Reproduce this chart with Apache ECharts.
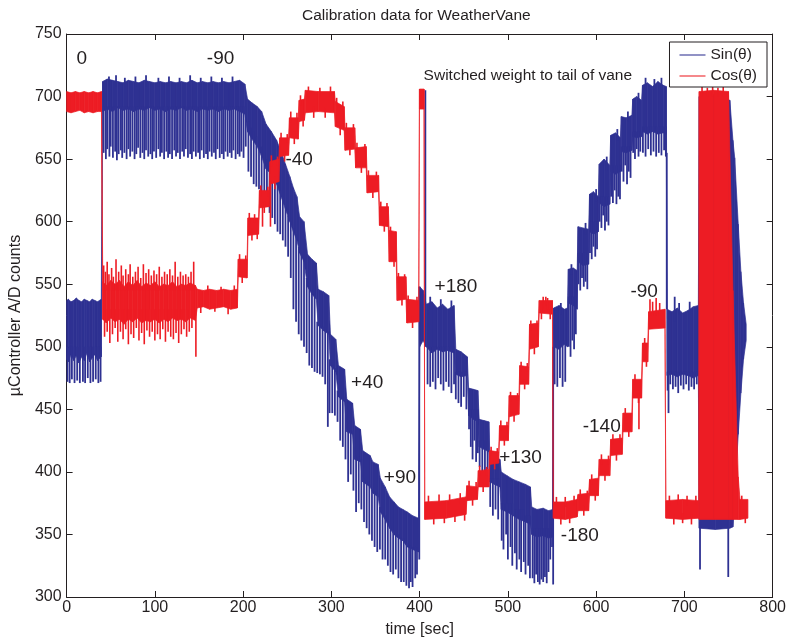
<!DOCTYPE html>
<html>
<head>
<meta charset="utf-8">
<title>Calibration data for WeatherVane</title>
<script src="https://cdn.jsdelivr.net/npm/echarts@6/dist/echarts.min.js"></script>
<style>
  html, body { margin: 0; padding: 0; background: #fff; }
  #chart { width: 789px; height: 643px; }
</style>
</head>
<body>
<div id="chart"></div>
<script>
// Sampled A/D readings. Each band entry is [time, lowest, highest] of the
// dense trace around that time; each spike entry is [time, from, to] for an
// isolated excursion of the noisy signal.
const sinBand = [
  [0,490,537],[2,488,538],[5,494,536],[8,489,537],[11,493,539],[14,487,537],[17,492,536],[20,489,538],
  [23,495,537],[26,488,536],[29,491,538],[32,494,537],[35,489,536],[39.3,492,538],
  [40.8,688,712],[46,690,714],[52,688,713],[58,691,712],[64,689,711],[70,690,713],[76,688,712],[82,690,711],
  [88,689,713],[94,691,712],[100,689,711],[106,690,712],[112,688,711],[118,690,712],[124,689,711],[130,691,712],
  [136,689,711],[142,690,713],[148,688,711],[154,690,712],[160,689,711],[166,690,712],[172,688,711],[178,690,712],
  [184,689,711],[190,690,712],[196,688,713],[202,686,710],
  [205,672,698],[210,666,695],[216,660,692],[221,652,688],[226,642,678],[232,638,672],[238,630,665],[243,620,656],
  [248,610,646],[253,600,636],[257,592,627],[261,585,620],[264,575,604],[269,568,600],[273,548,574],[278,542,570],
  [283,538,567],[285,517,546],[291,513,544],[297,510,541],[299,485,510],[305,480,506],[308,460,485],[315,456,482],
  [317.5,432,458],[324,430,455],[326.5,410,437],[333,408,434],[335.5,392,417],[344,388,413],[347,383,408],[353,380,406],
  [355.5,368,395],[361,362,388],[366,355,380],[371,350,376],[376,347,372],[381,345,370],[386,340,368],[392,338,365],
  [398.8,336,363],
  [400.2,500,548],[404,505,545],[407.5,500,534],[414,495,536],[420,498,531],[426,496,534],[432,497,530],[439,495,533],
  [441,478,498],[447,476,496],[454,477,492],
  [455.5,445,467],[461,442,466],[466,440,465],
  [467.5,420,442],[473,418,441],[478.5,416,440],
  [479.5,392,414],[485,390,412],[491,388,410],
  [492.5,370,400],[499,368,397],[506,365,394],[513,362,392],[520,360,390],[525.5,358,388],
  [527,350,372],[533,348,370],[540,349,371],[546,347,369],[550.8,348,370],
  [551.8,500,531],[558,498,533],[564,502,530],[567.5,500,531],
  [568.5,535,562],[574,533,563],[578.5,530,561],
  [579.5,568,596],[585,565,595],[591.5,566,594],
  [592.5,592,622],[597,590,624],[602.5,592,620],
  [603.5,615,646],[609,612,650],[615.5,614,645],
  [616.5,640,669],[622,638,671],[627.5,640,667],
  [628.5,656,684],[634,655,683],[640.5,657,685],
  [641.5,668,698],[646,667,700],[651.5,668,697],
  [652.5,672,709],[658,670,711],[664,672,708],[670,670,712],[676,671,709],[679.5,670,708],
  [680.5,477,530],[686,478,528],[692,476,531],[698,478,527],[704,477,529],[710,475,532],[715.8,477,533],
  [716.8,355,700],[735,354,702],[751.5,355,697],[755,356,665],[757,380,651],[761,430,598],[764,463,560],
  [767,490,535],[770,505,518]
];

const sinSpikes = [
  [1,472,500],[3.5,471,500],[6,474,500],[9,471,500],[12,473,500],[15,471,500],[18.5,472,500],[21,471,500],
  [24,475,500],[27,471,500],[30,472,500],[33,474,500],[36,471,500],[38.5,472,500],
  [42,655,692],[44.5,650,692],[46,658,692],[48.5,652,692],[50,660,692],[52.5,651,692],[55,656,692],[57,649,692],
  [59,654,692],[61.5,657,692],[63,651,692],[65.5,655,692],[68,650,692],[70,658,692],[72,652,692],[74.5,656,692],
  [77,650,692],[79,654,692],[81,659,692],[83.5,651,692],[86,655,692],[88,650,692],[90,657,692],[92.5,652,692],
  [95,654,692],[97,650,692],[99,656,692],[101.5,651,692],[104,658,692],[106,652,692],[108,655,692],[110.5,650,692],
  [113,656,692],[115,651,692],[117,654,692],[119.5,650,692],[122,657,692],[124,652,692],[126,655,692],[128.5,650,692],
  [131,656,692],[133,652,692],[135,658,692],[137.5,651,692],[140,654,692],[142,650,692],[144,656,692],[146.5,652,692],
  [149,655,692],[151,650,692],[153,657,692],[155.5,651,692],[158,654,692],[160,650,692],[162,656,692],[164.5,652,692],
  [167,655,692],[169,650,692],[171,658,692],[173.5,651,692],[176,654,692],[178,650,692],[180,656,692],[182.5,652,692],
  [185,655,692],[187,651,692],[189,657,692],[191.5,650,692],[194,654,692],[196,652,692],[198,656,692],[200.5,651,692],
  [203,660,692],
  [48,708,716],[56,708,717],[66,708,715],[78,708,716],[90,708,717],[104,708,715],[116,708,716],[128,708,715],
  [140,708,717],[152,708,715],[164,708,716],[176,708,715],[188,708,716],
  [206,640,680],[209,636,675],[212,630,672],[215,628,668],[218,626,665],[221,622,660],[224,615,655],[227,612,650],
  [230,607,645],[233,603,640],[236,598,636],[239,592,630],[242,590,625],[245,585,618],[248,580,612],[251,572,605],
  [254,555,600],[257,530,595],[260,520,590],[263,510,580],[266,505,575],[269,500,570],[272,495,555],[275,485,548],
  [278,483,545],[281,480,542],[284,479,520],[287,478,518],[290,476,516],[293,470,514],[296,436,512],[298,447,490],
  [301,447,485],[304,445,483],[307,440,465],[310,425,460],[313,420,458],[316,410,460],[319,392,435],[322,398,433],
  [325,385,433],[328,368,413],[331,375,412],[334,370,410],[337,360,395],[340,355,392],[343,350,390],[346,345,386],
  [349,340,384],[352,336,383],[355,338,372],[358,330,367],[361,330,365],[364,325,360],[367,320,357],[370,318,352],
  [373,322,350],[376,315,350],[379,312,348],[382,312,347],[385,309,343],[388,307,342],[390,312,341],[392,308,340],
  [395,315,340],[397,318,340],
  [399.6,330,548],[406.5,500,705],
  [409,470,500],[412,468,500],[415,472,500],[418,466,500],[421,475,500],[424,470,500],[427,465,500],[430,472,500],
  [433,468,500],[436,463,500],[439,470,500],
  [412,530,540],[424,530,538],[436,529,537],
  [441,458,480],[444,455,480],[447,452,480],[450,460,480],[453,450,480],
  [456,434,450],[458,420,450],[460,410,450],[462,425,450],[464,408,450],[466,415,450],
  [468,404,425],[471,400,425],[474,399,425],[477,402,425],
  [480,372,395],[483,365,395],[486,370,395],[489,362,395],
  [493,345,375],[495,338,375],[498,350,375],[500,330,375],[503,340,375],[505,325,375],[508,335,370],[510,322,370],
  [513,330,370],[515,320,370],[518,328,370],[520,318,365],[523,325,365],[525,315,365],
  [528,315,355],[530,311,355],[532,318,355],[534,312,355],[536,310,355],[538,314,355],[540,312,355],[542,316,355],
  [544,311,355],[546,320,355],[548,330,355],[550,340,355],
  [551.3,310,500],
  [553,470,505],[556,468,505],[559,475,505],[562,468,505],[565,472,505],
  [569,500,540],[571,492,540],[573,505,540],[575,498,540],[577,510,540],
  [580,550,575],[582,545,575],[584,555,575],[586,548,575],[588,552,575],[590,546,575],
  [593,575,600],[595,570,600],[597,580,600],[599,572,600],[601,578,600],
  [604,600,620],[606,595,620],[608,605,620],[610,593,620],[612,600,620],[614,597,620],
  [617,620,645],[619,615,645],[621,625,645],[623,614,645],[625,620,645],[627,618,645],
  [629,640,660],[631,632,660],[633,645,660],[635,630,660],[637,640,660],[639,635,660],
  [642,655,672],[644,650,672],[646,658,672],[648,652,672],[650,656,672],
  [653,655,676],[656,652,676],[659,658,676],[662,653,676],[665,656,676],[668,652,676],[671,655,676],[674,653,676],
  [677,657,676],[679,652,676],
  [560,526,535],[572,558,566],[588,590,599],[600,616,626],[612,641,652],[624,665,674],[636,680,688],[648,694,703],
  [656,706,715],[666,706,714],[674,706,715],
  [680,530,655],
  [681,465,480],[682,447,480],[684,470,480],[687,466,480],[689,520,540],[690,468,480],[693,463,480],[696,469,480],
  [699,466,480],[702,470,480],[705,465,480],[708,468,480],[711,466,480],[714,470,480],
  [694,526,535],[706,527,536],
  [717.7,322,360],[749.7,316,360]
];

const cosBand = [
  [0,688,704],[5,687,703],[10,688,704],[15,689,703],[20,687,704],[25,688,703],[30,687,704],[35,688,703],[39.5,688,704],
  [41,522,552],[45,519,549],[50,523,553],[55,520,550],[60,522,553],[65,518,548],[70,522,552],[75,520,549],
  [80,523,553],[85,519,548],[90,521,551],[95,520,549],[100,522,552],[105,519,548],[110,522,550],[115,520,549],
  [120,523,552],[125,521,548],[130,522,550],[135,520,549],[140,523,551],[146,521,549],
  [148,531,546],[155,532,545],[162,530,546],[170,531,545],[178,532,546],[186,530,545],[193.5,531,546],
  [194.5,556,570],[204.5,555,570],
  [205.5,589,603],[217.5,590,603],
  [218.5,611,625],[229.5,612,625],
  [230.5,630,648],[240.5,632,650],
  [241.5,652,667],[251.5,653,667],
  [252.5,667,683],[262.5,666,683],
  [263.5,680,697],[269.5,681,698],
  [270.5,687,705],[285,688,704],[303.5,687,704],
  [304.5,676,696],[314.5,673,692],
  [315.5,657,675],[326.5,658,675],
  [327.5,643,659],[339.5,643,660],
  [340.5,623,637],[353.5,624,637],
  [354.5,597,612],[364.5,596,612],
  [365.5,568,593],[373.5,568,592],
  [374.5,537,556],[384.5,538,556],
  [385.5,519,538],[399,520,537],
  [399.8,690,706],[405,690,706],
  [405.8,362,376],[430,363,377],[452.5,366,380],
  [453.5,377,389],[465.5,378,388],
  [466.5,388,401],[478.5,388,402],
  [479.5,406,417],[489.5,407,416],
  [490.5,425,437],[500.5,425,437],
  [501.5,444,461],[512.5,446,461],
  [513.5,470,485],[523.5,470,484],
  [524.5,498,518],[534.5,500,519],
  [535.5,527,537],[550.5,526,537],
  [551.5,363,376],[565,362,376],[578.5,364,378],
  [579.5,369,382],[591.5,369,383],
  [592.5,381,394],[602.5,381,395],
  [603.5,397,410],[615.5,397,410],
  [616.5,413,426],[629.5,414,427],
  [630.5,432,447],[640.5,432,447],
  [641.5,459,474],[651.5,459,474],
  [652.5,488,503],[658.5,488,503],
  [659.5,514,528],[678,515,530],
  [679,363,377],[698,362,378],[716.3,363,377],
  [716.8,362,704],[733,362,705],[750,362,704],[755,362,545],[761,362,396],[763,362,378],[772,363,378]
];

const cosSpikes = [
  [42,545,565],[44,545,560],[46,545,568],[48,545,558],[51,545,563],[53,545,556],[56,545,570],[59,545,560],
  [62,545,565],[64,545,557],[67,545,562],[70,545,558],[72,545,566],[75,545,556],[78,545,560],[81,545,564],
  [84,545,555],[87,545,566],[90,545,559],[93,545,562],[96,545,557],[99,545,561],[102,545,558],[105,545,564],
  [108,545,556],[111,545,560],[114,545,558],[117,545,562],[120,545,557],[123,545,568],[126,545,556],[129,545,560],
  [132,545,557],[135,545,558],[138,545,556],[141,545,560],[144,545,568],
  [43,508,530],[46,512,530],[49,503,530],[52,510,530],[55,515,530],[58,504,530],[61,512,530],[64,506,530],
  [67,514,530],[70,502,530],[73,510,530],[76,507,530],[79,515,530],[82,505,530],[85,511,530],[88,502,530],
  [91,513,530],[94,508,530],[97,512,530],[100,505,530],[103,510,530],[106,506,530],[109,514,530],[112,504,530],
  [115,512,530],[118,508,530],[121,506,530],[124,511,530],[127,503,530],[130,510,530],[133,514,530],[136,508,530],
  [139,512,530],[142,515,530],[146.5,492,530],
  [152,527,535],[160,542,549],[168,528,535],[175,542,548],[183,526,535],[190,542,549],
  [196,566,574],[199,551,560],[203,566,573],
  [207,598,607],[210,585,595],[213,599,606],[216,586,594],
  [220,620,629],[224,607,616],[228,620,628],
  [232,644,653],[236,626,636],[239,645,652],
  [243,662,671],[247,648,657],[250,663,670],
  [254,679,688],[258,662,672],[261,678,687],
  [265,693,701],[268,676,686],
  [274,700,708],[280,683,692],[287,700,707],[293,683,691],[299,700,708],
  [306,690,699],[310,669,678],[313,688,696],
  [317,670,679],[321,653,662],[325,671,678],
  [329,655,663],[334,639,648],[338,655,662],
  [342,633,641],[347,619,628],[351,633,640],
  [356,608,616],[360,592,601],[363,608,615],
  [367,588,596],[371,564,573],
  [376,551,559],[380,533,542],[383,551,558],
  [387,533,541],[392,515,524],[397,533,540],
  [410,372,381],[416,358,367],[422,373,382],[428,359,368],[434,374,382],[440,360,369],[446,375,383],[451,361,370],
  [456,385,393],[460,373,381],[464,385,392],
  [468,397,405],[472,384,392],[476,397,404],
  [481,413,420],[485,402,410],[488,413,419],
  [492,433,441],[496,421,429],[499,433,440],
  [503,456,464],[507,440,449],[511,457,463],
  [515,480,488],[519,466,474],[522,480,487],
  [526,513,521],[530,494,503],[533,514,521],
  [538,522,530],[543,533,540],[548,522,530],[540,530,540],[545,530,539],
  [555,372,380],[560,358,366],[565,372,380],[570,359,367],[575,373,381],
  [582,378,386],[586,365,373],[590,378,385],
  [595,390,398],[599,377,385],
  [606,406,414],[610,393,401],[614,406,413],
  [619,422,430],[623,409,417],[627,423,430],
  [633,443,451],[637,428,436],
  [644,470,478],[648,455,463],
  [655,499,507],[657,484,492],
  [222,596,615],[231,596,632],
  [648.5,434,465],[661,525,538],[664,525,536],[668,525,539],[672,525,535],
  [683,373,381],[688,358,366],[693,374,382],[698,359,367],[703,373,381],[708,358,366],[713,374,381],
  [720,700,708],[726,700,707],[732,700,708],[738,700,707],[744,700,708],
  [765,374,381],[769,359,366]
];

// Angle notes written on the plot: [time, counts, text]
const noteT = [11.3, 158.9, 404.5, 247.9, 416.9, 322.3, 359.4, 490.1, 584.8, 560, 638.9];
const noteV = [730.6, 730.6, 716.3, 649.3, 548, 471.5, 395.7, 411.6, 436.4, 348.6, 544];
const noteText = ['0', '-90', 'Switched weight to tail of vane', '-40', '+180', '+40', '+90', '+130', '-140', '-180', '-90'];

const xTicks = { min: 0, max: 800, interval: 100 };
const yTicks = { min: 300, max: 750, interval: 50 };

const BLUE = '#2e3192';
const RED = '#ed1c24';
const INK = '#231f20';
const FONT = '"Liberation Sans", Arial, Helvetica, sans-serif';

function bandSeries(name, band, color, z) {
  const data = [];
  for (let i = 0; i < band.length - 1; i++) {
    data.push([band[i][0], band[i][1], band[i][2], band[i + 1][0], band[i + 1][1], band[i + 1][2]]);
  }
  return {
    type: 'custom', name: name, z: z, clip: true, silent: true,
    itemStyle: { color: color },
    encode: { x: [0, 3], y: [1, 2, 4, 5] },
    renderItem: function (params, api) {
      const a = api.coord([api.value(0), api.value(2)]);
      const b = api.coord([api.value(3), api.value(5)]);
      const c = api.coord([api.value(3), api.value(4)]);
      const d = api.coord([api.value(0), api.value(1)]);
      return {
        type: 'polygon',
        shape: { points: [a, b, c, d] },
        style: { fill: color, stroke: color, lineWidth: 0.7 }
      };
    },
    data: data
  };
}

function spikeSeries(name, spikes, color, z, width) {
  return {
    type: 'custom', name: name, z: z, clip: true, silent: true,
    itemStyle: { color: color },
    encode: { x: 0, y: [1, 2] },
    renderItem: function (params, api) {
      const p = api.coord([api.value(0), api.value(1)]);
      const q = api.coord([api.value(0), api.value(2)]);
      return {
        type: 'line',
        shape: { x1: p[0], y1: p[1], x2: q[0], y2: q[1] },
        style: { stroke: color, lineWidth: width }
      };
    },
    data: spikes
  };
}

const notes = noteT.map(function (t, i) { return [t, noteV[i], i]; });

function axisCommon(extra) {
  return Object.assign({
    type: 'value',
    axisLine: { show: true, onZero: false, lineStyle: { color: INK, width: 1 } },
    axisTick: { show: true, inside: true, length: 6, lineStyle: { color: INK, width: 1 } },
    splitLine: { show: false },
    axisLabel: { color: INK, fontSize: 16, fontFamily: FONT }
  }, extra);
}

const chart = echarts.init(document.getElementById('chart'), null, { renderer: 'canvas' });
chart.setOption({
  animation: false,
  backgroundColor: '#ffffff',
  title: {
    text: 'Calibration data for WeatherVane',
    left: 302, top: 8, padding: 0,
    textStyle: { color: INK, fontSize: 15.5, fontWeight: 'normal', fontFamily: FONT }
  },
  legend: {
    right: 22, top: 42, orient: 'vertical',
    padding: [5, 10, 3, 10],
    itemWidth: 26, itemHeight: 1.5, itemGap: 5,
    borderColor: INK, borderWidth: 1, borderRadius: 0,
    backgroundColor: '#ffffff',
    textStyle: { color: INK, fontSize: 15.5, fontFamily: FONT, lineHeight: 16 },
    data: [
      { name: 'Sin(θ)', icon: 'rect', itemStyle: { color: BLUE, opacity: 0.7 } },
      { name: 'Cos(θ)', icon: 'rect', itemStyle: { color: RED, opacity: 0.7 } }
    ]
  },
  grid: { left: 62, right: 15, top: 34, bottom: 45, containLabel: false },
  xAxis: [
    axisCommon(Object.assign({
      position: 'bottom',
      name: 'time [sec]', nameLocation: 'middle', nameGap: 25,
      nameTextStyle: { color: INK, fontSize: 16, fontFamily: FONT },
      axisLabel: { color: INK, fontSize: 16, fontFamily: FONT, margin: 3 }
    }, xTicks)),
    axisCommon(Object.assign({ position: 'top', axisLabel: { show: false } }, xTicks))
  ],
  yAxis: [
    axisCommon(Object.assign({
      position: 'left',
      name: 'µController A/D counts', nameLocation: 'middle', nameGap: 33,
      nameTextStyle: { color: INK, fontSize: 16, fontFamily: FONT },
      axisLabel: { color: INK, fontSize: 16, fontFamily: FONT, margin: 5 }
    }, yTicks)),
    axisCommon(Object.assign({ position: 'right', axisLabel: { show: false } }, yTicks))
  ],
  series: [
    bandSeries('Sin(θ)', sinBand, BLUE, 2),
    spikeSeries('Sin(θ)', sinSpikes, BLUE, 2, 1.8),
    bandSeries('Cos(θ)', cosBand, RED, 3),
    spikeSeries('Cos(θ)', cosSpikes, RED, 3, 1.6),
    {
      type: 'custom', name: 'notes', z: 5, silent: true,
      encode: { x: 0, y: 1 },
      renderItem: function (params, api) {
        const p = api.coord([api.value(0), api.value(1)]);
        const label = noteText[api.value(2)];
        const small = label.length > 6;
        return {
          type: 'text', x: p[0], y: p[1],
          style: {
            text: label, fill: INK,
            fontSize: small ? 15.5 : 19, fontFamily: FONT,
            align: 'left', verticalAlign: 'middle'
          }
        };
      },
      data: notes
    }
  ]
});
</script>
</body>
</html>
